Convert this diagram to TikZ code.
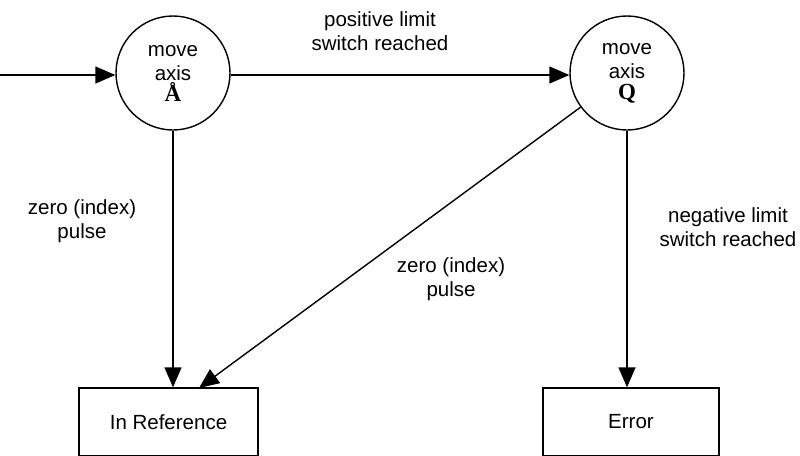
\documentclass[tikz,border=0pt]{standalone}
\usepackage{fontspec}
\setmainfont{Liberation Sans}
\newfontfamily\symfont{Liberation Serif}
\usetikzlibrary{arrows.meta,positioning}

\begin{document}
\begin{tikzpicture}[x=1pt, y=-1pt, every node/.style={font=\fontsize{20.5}{24}\selectfont, align=center},
  st/.style={circle,draw,line width=1.4pt,minimum size=114pt,inner sep=0pt},
  bx/.style={draw,line width=1.4pt,minimum height=68pt,inner sep=0pt},
  a/.style={-{Triangle[length=20pt,width=17pt]},line width=1.4pt}]
  \useasboundingbox (0,0) rectangle (800,455);
  \node[st] (move1) at (173,73) {move\\axis\\[-3pt]{\symfont\bfseries\fontsize{23}{24}\selectfont Å}};
  \node[st] (move2) at (627,73) {move\\axis\\[-3pt]{\symfont\bfseries\fontsize{23}{24}\selectfont Q}};
  \node[bx,minimum width=179pt] (inref) at (168.5,422) {In Reference};
  \node[bx,minimum width=176pt] (err) at (631,422) {Error};
  \coordinate (start) at (0,75);
  \coordinate (hit) at (199,388);
  \draw[a] (start) -- (move1.west |- start);
  \draw[a] (move1.east |- start) -- (move2.west |- start);
  \draw[a] (move1.south) -- (move1.south |- inref.north);
  \draw[a] (move2.south) -- (move2.south |- err.north);
  \draw[a] (move2) -- (hit);
  \node (lpos) at (380,31) {positive limit\\switch reached};
  \node (lz1) at (82,221) {zero (index)\\pulse};
  \node (lz2) at (451,279) {zero (index)\\pulse};
  \node (lneg) at (728,227) {negative limit\\switch reached};
\end{tikzpicture}
\end{document}
